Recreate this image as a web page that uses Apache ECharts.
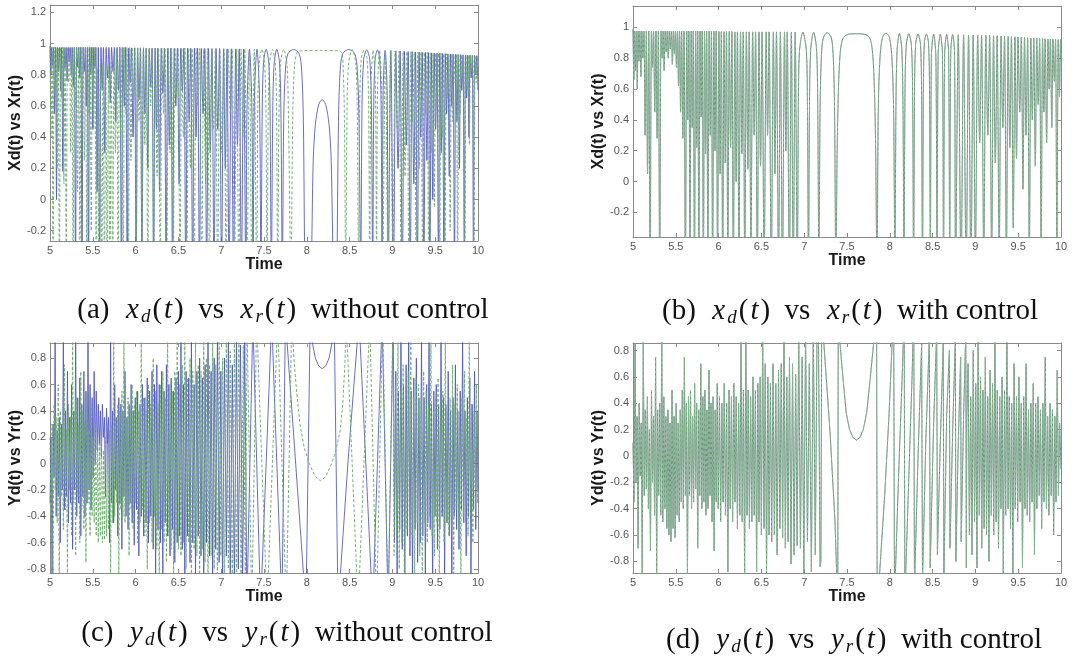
<!DOCTYPE html>
<html><head><meta charset="utf-8">
<script src="https://cdn.jsdelivr.net/npm/echarts@6/dist/echarts.min.js"></script>
<style>html,body{margin:0;padding:0;background:#fff}#c{width:1090px;height:659px}</style>
</head><body><div id="c"></div>
<script>
// ---- data: [time, value] pairs ----
// (a) x without control: blue solid = Xd, green dashed = Xr
const xdA = [[5.000,0.98],[5.010,0.80],[5.020,0.975],[5.030,0.86],[5.040,0.975],[5.052,0.55],[5.064,0.975],[5.076,0.00],[5.088,0.975],[5.100,0.82],[5.112,0.975],[5.124,0.70],[5.136,0.975],[5.150,0.18],[5.164,0.975],[5.176,0.84],[5.188,0.975],[5.200,0.76],[5.212,0.975],[5.224,0.88],[5.236,0.975],[5.248,0.80],[5.260,0.975],[5.272,0.72],[5.284,0.975],[5.298,-0.5],[5.312,0.975],[5.324,0.85],[5.336,0.975],[5.348,0.78],[5.360,0.975],[5.374,-0.5],[5.388,0.975],[5.400,0.82],[5.412,0.975],[5.424,0.60],[5.436,0.975],[5.450,-0.5],[5.464,0.975],[5.476,0.80],[5.488,0.975],[5.500,0.45],[5.512,0.975],[5.524,0.85],[5.536,0.975],[5.550,0.05],[5.564,0.975],[5.580,-0.5],[5.596,0.975],[5.610,0.70],[5.624,0.975],[5.640,0.30],[5.656,0.975],[5.672,0.78],[5.688,0.975],[5.704,0.62],[5.720,0.975],[5.736,0.82],[5.752,0.975],[5.768,0.50],[5.784,0.975],[5.800,0.70],[5.816,0.975],[5.834,-0.5],[5.852,0.975],[5.868,0.60],[5.884,0.975],[5.902,-0.5],[5.920,0.972],[5.936,0.75],[5.952,0.972],[5.970,0.40],[5.988,0.972],[6.006,-0.5],[6.024,0.972],[6.040,0.65],[6.056,0.972],[6.074,-0.5],[6.092,0.972],[6.108,0.55],[6.124,0.97],[6.142,0.20],[6.160,0.97],[6.176,0.72],[6.192,0.97],[6.210,-0.5],[6.228,0.97],[6.244,0.45],[6.260,0.97],[6.280,0.05],[6.300,0.97],[6.318,0.68],[6.336,0.97],[6.356,-0.5],[6.376,0.97],[6.394,0.35],[6.412,0.97],[6.432,-0.5],[6.452,0.97],[6.470,0.60],[6.488,0.97],[6.508,0.10],[6.528,0.97],[6.546,0.70],[6.564,0.97],[6.586,-0.5],[6.608,0.97],[6.626,0.50],[6.644,0.97],[6.666,-0.5],[6.688,0.97],[6.706,0.40],[6.724,0.97],[6.746,-0.5],[6.768,0.968],[6.788,0.55],[6.808,0.968],[6.830,-0.5],[6.852,0.968],[6.872,0.30],[6.892,0.968],[6.916,-0.5],[6.940,0.968],[6.960,0.45],[6.980,0.968],[7.004,-0.5],[7.028,0.966],[7.048,0.20],[7.068,0.966],[7.092,-0.5],[7.118,0.966],[7.144,-0.5],[7.170,0.966],[7.190,0.35],[7.210,0.966],[7.236,-0.5],[7.262,0.965],[7.288,-0.5],[7.302,0.6],[7.330,0.964],[7.358,0.6],[7.372,-0.5],[7.388,0.65],[7.418,0.964],[7.448,0.65],[7.464,-0.5],[7.480,0.6],[7.495,0.88],[7.525,0.963],[7.555,0.88],[7.570,0.6],[7.586,-0.5],[7.602,0.55],[7.618,0.87],[7.650,0.963],[7.682,0.87],[7.698,0.55],[7.714,-0.5],[7.730,0.5],[7.750,0.83],[7.780,0.935],[7.845,0.962],[7.910,0.935],[7.940,0.83],[7.960,0.5],[7.980,-0.5],[8.015,-0.9],[8.050,-0.5],[8.075,0.25],[8.100,0.48],[8.140,0.61],[8.180,0.64],[8.220,0.61],[8.260,0.48],[8.285,0.25],[8.310,-0.5],[8.330,-0.9],[8.350,-0.5],[8.370,0.5],[8.390,0.83],[8.420,0.935],[8.490,0.962],[8.560,0.935],[8.590,0.83],[8.610,0.5],[8.630,-0.5],[8.645,0.6],[8.665,0.9],[8.700,0.96],[8.735,0.9],[8.755,0.6],[8.770,-0.5],[8.782,0.6],[8.798,0.9],[8.825,0.958],[8.852,0.9],[8.868,0.6],[8.880,-0.5],[8.892,0.7],[8.915,0.956],[8.938,0.7],[8.950,-0.5],[8.982,0.955],[9.012,-0.5],[9.040,0.953],[9.066,0.20],[9.090,0.952],[9.116,-0.5],[9.140,0.95],[9.162,0.35],[9.184,0.949],[9.208,-0.5],[9.230,0.948],[9.250,0.10],[9.270,0.946],[9.292,-0.5],[9.312,0.945],[9.330,0.40],[9.348,0.944],[9.368,-0.5],[9.386,0.943],[9.403,0.25],[9.420,0.942],[9.438,-0.5],[9.455,0.94],[9.472,0.00],[9.488,0.939],[9.505,0.45],[9.521,0.938],[9.538,-0.5],[9.554,0.937],[9.570,0.30],[9.585,0.936],[9.602,-0.5],[9.618,0.935],[9.633,0.55],[9.648,0.934],[9.664,0.15],[9.679,0.933],[9.694,0.60],[9.709,0.932],[9.725,-0.5],[9.740,0.931],[9.754,0.50],[9.768,0.93],[9.783,0.20],[9.797,0.929],[9.811,0.70],[9.825,0.928],[9.840,-0.5],[9.854,0.927],[9.867,0.65],[9.880,0.926],[9.894,0.40],[9.907,0.925],[9.920,0.78],[9.933,0.924],[9.947,-0.4],[9.960,0.923],[9.973,0.80],[9.986,0.922],[10.0,0.70]];
const xrA = [[5.000,0.99],[5.012,0.40],[5.024,0.975],[5.036,-0.5],[5.048,0.975],[5.060,0.70],[5.072,0.975],[5.084,0.20],[5.096,0.975],[5.110,-0.5],[5.124,0.975],[5.136,0.65],[5.148,0.975],[5.162,0.10],[5.176,0.975],[5.190,-0.5],[5.204,0.975],[5.216,0.75],[5.228,0.975],[5.242,0.30],[5.256,0.975],[5.270,-0.5],[5.284,0.975],[5.296,0.60],[5.308,0.975],[5.322,0.05],[5.336,0.975],[5.350,-0.5],[5.364,0.975],[5.376,0.70],[5.388,0.975],[5.402,0.25],[5.416,0.975],[5.430,-0.5],[5.444,0.975],[5.456,0.55],[5.468,0.975],[5.482,-0.2],[5.496,0.975],[5.510,0.45],[5.524,0.975],[5.540,-0.5],[5.556,0.84],[5.572,-0.5],[5.588,0.86],[5.604,-0.5],[5.620,0.87],[5.636,-0.5],[5.652,0.86],[5.668,-0.5],[5.684,0.85],[5.700,-0.5],[5.716,0.88],[5.732,-0.5],[5.748,0.92],[5.764,0.30],[5.780,0.96],[5.796,-0.5],[5.812,0.975],[5.826,0.40],[5.840,0.975],[5.856,-0.5],[5.872,0.975],[5.886,0.55],[5.900,0.975],[5.916,-0.5],[5.932,0.975],[5.946,0.25],[5.960,0.975],[5.976,0.65],[5.992,0.972],[6.008,-0.5],[6.024,0.972],[6.040,0.50],[6.056,0.972],[6.074,-0.5],[6.092,0.972],[6.108,0.35],[6.124,0.972],[6.142,-0.5],[6.160,0.97],[6.176,0.60],[6.192,0.97],[6.212,-0.5],[6.232,0.97],[6.250,0.15],[6.268,0.97],[6.288,-0.5],[6.308,0.97],[6.326,0.55],[6.344,0.97],[6.364,-0.5],[6.384,0.97],[6.402,0.30],[6.420,0.97],[6.440,-0.5],[6.460,0.97],[6.478,0.65],[6.496,0.97],[6.518,-0.5],[6.540,0.97],[6.558,0.40],[6.576,0.97],[6.598,-0.5],[6.620,0.968],[6.640,0.20],[6.660,0.968],[6.684,-0.5],[6.708,0.968],[6.728,0.60],[6.748,0.968],[6.772,-0.5],[6.796,0.968],[6.818,0.10],[6.840,0.968],[6.864,-0.5],[6.888,0.967],[6.910,0.45],[6.932,0.967],[6.958,-0.5],[6.984,0.967],[7.008,0.30],[7.032,0.966],[7.058,-0.5],[7.084,0.966],[7.106,0.55],[7.128,0.966],[7.154,-0.5],[7.180,0.965],[7.206,-0.5],[7.232,0.965],[7.254,0.40],[7.276,0.965],[7.302,-0.5],[7.330,0.964],[7.358,-0.5],[7.386,0.964],[7.414,-0.5],[7.428,0.6],[7.444,0.88],[7.475,0.963],[7.506,0.88],[7.522,0.6],[7.536,-0.5],[7.550,0.6],[7.566,0.88],[7.598,0.962],[7.630,0.88],[7.646,0.6],[7.660,-0.5],[7.675,0.55],[7.692,0.87],[7.730,0.962],[7.768,0.87],[7.785,0.55],[7.815,-0.5],[7.835,0.5],[7.855,0.85],[7.885,0.94],[7.930,0.953],[8.160,0.956],[8.380,0.953],[8.410,0.94],[8.425,0.85],[8.440,0.5],[8.455,-0.5],[8.470,0.55],[8.488,0.87],[8.530,0.962],[8.572,0.87],[8.590,0.55],[8.605,-0.5],[8.618,0.6],[8.636,0.9],[8.670,0.96],[8.704,0.9],[8.722,0.6],[8.735,-0.5],[8.748,0.7],[8.775,0.958],[8.802,0.7],[8.815,-0.5],[8.826,0.7],[8.850,0.957],[8.874,0.7],[8.886,-0.5],[8.918,0.955],[8.950,-0.5],[8.978,0.954],[9.006,-0.5],[9.032,0.952],[9.056,0.45],[9.078,0.951],[9.102,-0.5],[9.126,0.95],[9.148,0.15],[9.170,0.948],[9.194,-0.5],[9.216,0.947],[9.236,0.50],[9.256,0.946],[9.278,-0.5],[9.298,0.945],[9.316,0.20],[9.334,0.944],[9.354,-0.5],[9.372,0.943],[9.389,0.55],[9.406,0.942],[9.424,-0.5],[9.441,0.94],[9.458,0.30],[9.474,0.939],[9.490,-0.05],[9.506,0.938],[9.522,0.60],[9.537,0.937],[9.553,-0.5],[9.569,0.936],[9.584,0.40],[9.599,0.935],[9.615,-0.5],[9.630,0.934],[9.645,0.65],[9.660,0.933],[9.675,-0.2],[9.690,0.932],[9.704,0.50],[9.718,0.931],[9.733,0.75],[9.747,0.93],[9.762,-0.5],[9.776,0.929],[9.790,0.55],[9.804,0.928],[9.818,0.80],[9.832,0.927],[9.846,-0.5],[9.860,0.926],[9.873,0.70],[9.886,0.925],[9.899,0.35],[9.912,0.924],[9.925,0.82],[9.938,0.923],[9.952,-0.5],[9.965,0.922],[9.978,0.75],[9.990,0.921],[10.0,0.85]];
// (b) x with control: Xd and Xr coincide
const xB = [[5.000,0.99],[5.010,0.66],[5.020,0.975],[5.030,0.72],[5.040,0.975],[5.050,0.60],[5.060,0.975],[5.070,0.78],[5.080,0.975],[5.092,0.68],[5.104,0.975],[5.116,0.80],[5.128,0.975],[5.142,0.30],[5.156,0.975],[5.170,0.05],[5.184,0.975],[5.200,-0.6],[5.216,0.975],[5.228,0.74],[5.240,0.975],[5.254,0.45],[5.268,0.975],[5.282,0.28],[5.296,0.975],[5.312,-0.6],[5.328,0.975],[5.340,0.80],[5.352,0.975],[5.364,0.72],[5.376,0.975],[5.388,0.84],[5.400,0.975],[5.412,0.80],[5.424,0.975],[5.436,0.86],[5.448,0.975],[5.460,0.76],[5.472,0.975],[5.484,0.83],[5.496,0.975],[5.508,0.74],[5.520,0.975],[5.532,0.62],[5.544,0.975],[5.556,0.45],[5.568,0.975],[5.582,0.28],[5.596,0.975],[5.612,-0.6],[5.628,0.975],[5.640,0.40],[5.652,0.975],[5.666,-0.5],[5.680,0.975],[5.692,0.35],[5.704,0.975],[5.718,-0.6],[5.732,0.975],[5.744,0.22],[5.756,0.975],[5.770,-0.5],[5.784,0.975],[5.796,0.42],[5.808,0.975],[5.822,-0.6],[5.836,0.975],[5.848,0.18],[5.860,0.975],[5.875,-0.5],[5.890,0.975],[5.903,0.30],[5.916,0.975],[5.930,-0.6],[5.945,0.975],[5.958,0.20],[5.972,0.975],[5.988,-0.5],[6.004,0.972],[6.018,0.05],[6.032,0.972],[6.048,-0.6],[6.064,0.972],[6.078,0.12],[6.092,0.972],[6.108,-0.5],[6.125,0.972],[6.140,0.22],[6.155,0.972],[6.172,-0.6],[6.190,0.97],[6.205,0.00],[6.220,0.97],[6.238,-0.5],[6.256,0.97],[6.272,0.18],[6.288,0.97],[6.306,-0.6],[6.325,0.97],[6.342,0.08],[6.358,0.97],[6.378,-0.5],[6.398,0.97],[6.416,0.30],[6.432,0.97],[6.452,-0.6],[6.472,0.97],[6.490,0.10],[6.508,0.97],[6.532,-0.6],[6.556,0.97],[6.572,0.30],[6.590,0.97],[6.615,-0.6],[6.640,0.97],[6.658,0.05],[6.676,0.97],[6.700,-0.6],[6.722,0.97],[6.746,-0.6],[6.770,0.97],[6.786,0.20],[6.802,0.97],[6.826,-0.6],[6.850,0.968],[6.872,-0.6],[6.895,0.968],[6.920,-0.6],[6.932,0.5],[6.945,0.85],[6.985,0.968],[7.025,0.85],[7.038,0.5],[7.050,-0.6],[7.062,0.5],[7.076,0.86],[7.110,0.967],[7.144,0.86],[7.158,0.5],[7.172,-0.6],[7.185,0.45],[7.200,0.80],[7.222,0.93],[7.270,0.966],[7.318,0.93],[7.340,0.80],[7.355,0.45],[7.370,-0.6],[7.385,0.2],[7.400,0.6],[7.420,0.83],[7.450,0.925],[7.500,0.952],[7.610,0.958],[7.720,0.952],[7.770,0.925],[7.800,0.83],[7.820,0.6],[7.835,0.2],[7.850,-0.6],[7.865,0.45],[7.885,0.80],[7.915,0.935],[7.955,0.962],[7.995,0.935],[8.025,0.80],[8.045,0.45],[8.060,-0.6],[8.072,0.5],[8.086,0.86],[8.113,0.96],[8.140,0.86],[8.154,0.5],[8.166,-0.6],[8.177,0.55],[8.191,0.88],[8.222,0.958],[8.253,0.88],[8.267,0.55],[8.278,-0.6],[8.289,0.6],[8.302,0.89],[8.330,0.957],[8.358,0.89],[8.371,0.6],[8.382,-0.6],[8.392,0.6],[8.404,0.9],[8.428,0.956],[8.452,0.9],[8.464,0.6],[8.474,-0.6],[8.486,0.82],[8.512,0.955],[8.538,0.82],[8.552,-0.6],[8.565,0.83],[8.590,0.955],[8.615,0.83],[8.628,-0.6],[8.641,0.83],[8.664,0.954],[8.687,0.83],[8.700,-0.6],[8.712,0.84],[8.734,0.953],[8.756,0.84],[8.768,-0.6],[8.800,0.952],[8.832,-0.6],[8.862,0.951],[8.892,-0.6],[8.920,0.95],[8.948,-0.6],[8.974,0.95],[9.000,-0.5],[9.027,0.95],[9.050,0.25],[9.072,0.95],[9.098,-0.5],[9.122,0.948],[9.145,0.30],[9.166,0.948],[9.190,-0.5],[9.212,0.945],[9.233,0.12],[9.254,0.945],[9.278,-0.5],[9.300,0.943],[9.320,0.35],[9.340,0.943],[9.362,-0.5],[9.383,0.94],[9.402,0.22],[9.421,0.94],[9.442,-0.3],[9.462,0.938],[9.480,0.15],[9.498,0.936],[9.518,0.45],[9.536,0.935],[9.556,-0.05],[9.574,0.934],[9.592,0.30],[9.610,0.932],[9.630,-0.5],[9.648,0.93],[9.665,0.40],[9.682,0.93],[9.700,0.10],[9.717,0.928],[9.734,0.50],[9.750,0.927],[9.768,-0.5],[9.785,0.926],[9.800,0.45],[9.815,0.925],[9.832,0.25],[9.848,0.924],[9.862,0.60],[9.876,0.923],[9.892,0.35],[9.907,0.922],[9.922,0.65],[9.936,0.921],[9.952,-0.5],[9.968,0.92],[9.982,0.55],[9.995,0.92],[10.0,0.8]];
// (c) y without control: blue solid = Yd, green dashed = Yr
const ydC = [[5.000,-0.30],[5.012,0.20],[5.024,-0.85],[5.036,0.30],[5.048,-0.10],[5.060,0.95],[5.072,-0.40],[5.084,0.25],[5.096,-0.25],[5.108,0.35],[5.120,-0.60],[5.132,0.30],[5.144,-0.20],[5.156,0.95],[5.168,-0.35],[5.180,0.40],[5.192,-0.25],[5.204,0.70],[5.216,-0.45],[5.228,0.35],[5.240,-0.30],[5.252,0.60],[5.264,-0.65],[5.276,0.40],[5.288,-0.20],[5.300,0.95],[5.312,-0.40],[5.324,0.50],[5.336,-0.30],[5.348,0.65],[5.360,-0.55],[5.372,0.45],[5.384,-0.25],[5.396,0.70],[5.408,-0.40],[5.420,0.55],[5.432,-0.30],[5.444,0.95],[5.456,-0.20],[5.468,0.60],[5.480,-0.35],[5.492,0.50],[5.504,-0.10],[5.516,0.70],[5.528,0.00],[5.540,0.55],[5.552,0.10],[5.564,0.45],[5.576,0.15],[5.588,0.40],[5.600,0.05],[5.612,0.45],[5.624,0.20],[5.636,0.35],[5.648,-0.25],[5.660,0.42],[5.672,0.15],[5.684,0.35],[5.696,-0.60],[5.708,0.95],[5.720,-0.30],[5.732,0.40],[5.744,-0.45],[5.756,0.60],[5.768,-0.20],[5.780,0.35],[5.792,-0.55],[5.804,0.50],[5.816,-0.30],[5.828,0.45],[5.840,-0.65],[5.852,0.40],[5.864,-0.25],[5.876,0.70],[5.888,-0.40],[5.900,0.35],[5.912,-0.50],[5.924,0.45],[5.936,-0.30],[5.948,0.60],[5.960,-0.45],[5.972,0.40],[5.984,-0.62],[5.996,0.50],[6.010,-0.35],[6.024,0.55],[6.038,-0.70],[6.052,0.45],[6.066,-0.40],[6.080,0.60],[6.094,-0.55],[6.108,0.50],[6.122,-0.45],[6.136,0.65],[6.150,-0.60],[6.164,0.55],[6.178,-0.40],[6.192,0.70],[6.206,-0.65],[6.220,0.60],[6.234,-0.85],[6.248,0.75],[6.262,-0.50],[6.276,0.60],[6.290,-0.60],[6.304,0.70],[6.318,-0.85],[6.332,0.55],[6.346,-0.45],[6.360,0.75],[6.374,-0.55],[6.388,0.60],[6.402,-0.70],[6.416,0.65],[6.430,-0.50],[6.444,0.55],[6.458,-0.75],[6.472,0.65],[6.486,-0.60],[6.500,0.70],[6.515,-0.55],[6.530,0.95],[6.545,-0.65],[6.560,0.60],[6.575,-0.85],[6.590,0.70],[6.605,-0.55],[6.620,0.65],[6.636,-0.75],[6.652,0.95],[6.668,-0.60],[6.684,0.60],[6.700,-0.85],[6.716,0.70],[6.732,-0.55],[6.748,0.80],[6.764,-0.70],[6.780,0.65],[6.796,-0.95],[6.812,0.75],[6.828,-0.60],[6.846,0.95],[6.864,-0.70],[6.882,0.70],[6.900,-0.85],[6.918,0.80],[6.936,-0.65],[6.956,0.95],[6.976,-0.75],[6.996,0.70],[7.016,-0.95],[7.038,0.80],[7.060,-0.70],[7.084,0.95],[7.106,-0.90],[7.130,0.75],[7.154,-0.95],[7.178,0.95],[7.200,-0.80],[7.225,0.90],[7.250,-0.95],[7.275,0.95],[7.300,-1.1],[7.370,1.1],[7.460,-1.1],[7.590,1.1],[7.710,-1.1],[7.750,1.1],[7.990,-1.1],[8.040,1.1],[8.070,0.90],[8.100,0.80],[8.140,0.74],[8.180,0.72],[8.220,0.74],[8.260,0.80],[8.290,0.90],[8.320,1.1],[8.365,-1.1],[8.480,0.0],[8.610,1.1],[8.770,-1.1],[8.880,1.1],[8.950,-1.1],[9.010,1.1],[9.025,-0.60],[9.040,0.70],[9.055,-0.95],[9.070,0.55],[9.085,-0.50],[9.100,0.95],[9.115,-0.65],[9.130,0.60],[9.145,-0.85],[9.160,0.75],[9.175,-0.55],[9.190,0.95],[9.205,-0.70],[9.220,0.55],[9.235,-0.95],[9.250,0.65],[9.265,-0.50],[9.280,0.80],[9.295,-0.75],[9.310,0.50],[9.325,-0.60],[9.340,0.95],[9.355,-0.55],[9.370,0.50],[9.385,-0.85],[9.400,0.60],[9.414,-0.45],[9.428,0.95],[9.442,-0.50],[9.456,0.45],[9.470,-0.95],[9.484,0.55],[9.498,-0.40],[9.512,0.60],[9.526,-0.65],[9.540,0.45],[9.554,-0.50],[9.568,0.95],[9.582,-0.40],[9.596,0.50],[9.610,-0.85],[9.624,0.45],[9.638,-0.45],[9.652,0.70],[9.666,-0.55],[9.680,0.40],[9.694,-0.95],[9.708,0.50],[9.722,-0.40],[9.736,0.75],[9.750,-0.50],[9.764,0.40],[9.778,-0.65],[9.792,0.55],[9.806,-0.35],[9.820,0.95],[9.834,-0.45],[9.848,0.40],[9.862,-0.70],[9.876,0.50],[9.890,-0.40],[9.904,0.65],[9.918,-0.85],[9.932,0.45],[9.946,-0.35],[9.960,0.70],[9.974,-0.50],[9.988,0.40],[10.00,-0.20]];
const yrC = [[5.000,0.20],[5.012,-0.40],[5.024,0.30],[5.036,-0.85],[5.048,0.45],[5.060,-0.20],[5.072,0.35],[5.084,-0.45],[5.096,0.60],[5.108,-0.95],[5.120,0.40],[5.132,-0.25],[5.144,0.30],[5.156,-0.50],[5.168,0.75],[5.180,-0.35],[5.192,0.25],[5.204,-0.85],[5.216,0.45],[5.228,-0.20],[5.240,0.35],[5.252,-0.55],[5.264,0.95],[5.276,-0.30],[5.288,0.40],[5.300,-0.70],[5.312,0.50],[5.324,-0.25],[5.336,0.30],[5.348,-0.60],[5.360,0.70],[5.372,-0.35],[5.384,0.40],[5.396,-0.50],[5.408,0.30],[5.420,-0.75],[5.432,0.55],[5.444,-0.30],[5.456,0.25],[5.468,-0.55],[5.480,0.45],[5.492,-0.40],[5.504,0.20],[5.516,-0.45],[5.528,0.30],[5.540,-0.55],[5.552,0.20],[5.564,-0.60],[5.576,0.15],[5.588,-0.55],[5.600,0.25],[5.612,-0.60],[5.624,0.10],[5.636,-0.58],[5.648,0.20],[5.660,-0.55],[5.672,0.15],[5.684,-0.50],[5.696,0.25],[5.708,-0.85],[5.720,0.30],[5.732,-0.45],[5.744,0.95],[5.756,-0.40],[5.768,0.35],[5.780,-0.30],[5.792,0.45],[5.804,-0.85],[5.816,0.40],[5.828,-0.35],[5.840,0.55],[5.852,-0.40],[5.864,0.95],[5.876,-0.45],[5.888,0.35],[5.900,-0.30],[5.912,0.50],[5.924,-0.70],[5.936,0.40],[5.948,-0.35],[5.960,0.60],[5.972,-0.50],[5.984,0.45],[5.996,-0.30],[6.010,0.55],[6.024,-0.60],[6.038,0.40],[6.052,-0.45],[6.066,0.95],[6.080,-0.35],[6.094,0.50],[6.108,-0.55],[6.122,0.40],[6.136,-0.80],[6.150,0.60],[6.164,-0.45],[6.178,0.45],[6.192,-0.60],[6.206,0.80],[6.220,-0.40],[6.234,0.55],[6.248,-0.65],[6.262,0.45],[6.276,-0.95],[6.290,0.60],[6.304,-0.50],[6.318,0.70],[6.332,-0.60],[6.346,0.50],[6.360,-0.75],[6.374,0.95],[6.388,-0.55],[6.402,0.60],[6.416,-0.65],[6.430,0.55],[6.444,-0.85],[6.458,0.70],[6.472,-0.55],[6.486,0.95],[6.500,-0.65],[6.515,0.60],[6.530,-0.70],[6.545,0.75],[6.560,-0.60],[6.575,0.95],[6.590,-0.80],[6.605,0.65],[6.620,-0.60],[6.636,0.80],[6.652,-0.95],[6.668,0.70],[6.684,-0.65],[6.700,0.95],[6.716,-0.70],[6.732,0.75],[6.748,-0.90],[6.764,0.70],[6.780,-0.65],[6.796,0.95],[6.812,-0.75],[6.828,0.80],[6.846,-0.95],[6.864,0.75],[6.882,-0.70],[6.900,0.95],[6.918,-0.80],[6.936,0.75],[6.956,-0.95],[6.976,0.95],[6.996,-0.70],[7.016,0.80],[7.038,-0.95],[7.060,0.95],[7.084,-0.80],[7.106,0.85],[7.130,-0.95],[7.154,0.95],[7.178,-0.85],[7.206,0.95],[7.232,-0.95],[7.258,0.90],[7.282,-0.95],[7.302,1.05],[7.358,-1.1],[7.414,1.1],[7.536,-1.1],[7.660,1.1],[7.760,-1.1],[7.825,1.1],[7.850,0.80],[7.880,0.55],[7.920,0.30],[7.970,0.12],[8.030,0.00],[8.100,-0.10],[8.160,-0.13],[8.220,-0.10],[8.290,0.00],[8.340,0.10],[8.390,0.25],[8.420,0.45],[8.445,0.75],[8.460,1.1],[8.600,-1.1],[8.735,1.1],[8.815,-1.1],[8.886,1.1],[8.950,-1.1],[9.006,1.1],[9.020,-0.70],[9.035,0.60],[9.050,-0.55],[9.065,0.95],[9.080,-0.80],[9.095,0.55],[9.110,-0.60],[9.125,0.75],[9.140,-0.95],[9.155,0.60],[9.170,-0.50],[9.185,0.70],[9.200,-0.65],[9.215,0.95],[9.230,-0.55],[9.245,0.50],[9.260,-0.85],[9.275,0.65],[9.290,-0.45],[9.305,0.60],[9.320,-0.70],[9.335,0.50],[9.350,-0.95],[9.365,0.70],[9.380,-0.45],[9.394,0.55],[9.408,-0.60],[9.422,0.45],[9.436,-0.40],[9.450,0.95],[9.464,-0.55],[9.478,0.40],[9.492,-0.70],[9.506,0.50],[9.520,-0.45],[9.534,0.65],[9.548,-0.95],[9.562,0.45],[9.576,-0.40],[9.590,0.55],[9.604,-0.60],[9.618,0.95],[9.632,-0.45],[9.646,0.40],[9.660,-0.55],[9.674,0.50],[9.688,-0.40],[9.702,0.75],[9.716,-0.85],[9.730,0.45],[9.744,-0.35],[9.758,0.60],[9.772,-0.50],[9.786,0.40],[9.800,-0.95],[9.814,0.50],[9.828,-0.40],[9.842,0.70],[9.856,-0.45],[9.870,0.35],[9.884,-0.55],[9.898,0.95],[9.912,-0.40],[9.926,0.45],[9.940,-0.60],[9.954,0.40],[9.968,-0.35],[9.982,0.60],[9.995,-0.30],[10.00,0.10]];
// (d) y with control: Yd and Yr coincide
const yD = [[5.000,0.10],[5.012,-0.35],[5.024,0.85],[5.036,-0.20],[5.048,0.30],[5.060,-0.70],[5.072,0.40],[5.084,-0.15],[5.096,0.25],[5.108,-0.90],[5.120,0.90],[5.132,-0.30],[5.144,0.35],[5.156,-0.25],[5.168,0.45],[5.180,-0.40],[5.192,0.20],[5.204,-0.72],[5.216,0.50],[5.228,-0.20],[5.240,0.30],[5.252,-0.45],[5.264,0.75],[5.276,-0.90],[5.288,0.35],[5.300,-0.30],[5.312,0.40],[5.324,-0.45],[5.336,0.95],[5.348,-0.50],[5.360,0.45],[5.372,-0.40],[5.384,0.30],[5.396,-0.55],[5.408,0.35],[5.420,-0.60],[5.432,0.25],[5.444,-0.65],[5.456,0.50],[5.468,-0.55],[5.480,0.30],[5.492,-0.62],[5.504,0.40],[5.516,-0.45],[5.528,0.25],[5.540,-0.50],[5.552,0.35],[5.564,-0.35],[5.576,0.50],[5.588,-0.40],[5.600,0.75],[5.612,-0.30],[5.624,0.40],[5.636,-0.90],[5.648,0.45],[5.660,-0.30],[5.672,0.50],[5.684,-0.40],[5.696,0.30],[5.708,-0.35],[5.720,0.55],[5.732,-0.25],[5.744,0.40],[5.756,-0.70],[5.768,0.35],[5.780,-0.30],[5.792,0.70],[5.804,-0.40],[5.816,0.45],[5.828,-0.35],[5.840,0.50],[5.852,-0.45],[5.864,0.35],[5.876,-0.40],[5.888,0.65],[5.900,-0.30],[5.912,0.40],[5.924,-0.50],[5.936,0.45],[5.948,-0.72],[5.960,0.35],[5.972,-0.35],[5.984,0.55],[5.996,-0.40],[6.010,0.45],[6.024,-0.50],[6.038,0.40],[6.052,-0.35],[6.066,0.55],[6.080,-0.45],[6.094,0.40],[6.108,-0.88],[6.122,0.50],[6.136,-0.40],[6.150,0.45],[6.164,-0.50],[6.178,0.55],[6.192,-0.35],[6.206,0.45],[6.220,-0.55],[6.234,0.40],[6.248,-0.45],[6.262,0.92],[6.276,-0.50],[6.290,0.50],[6.304,-0.90],[6.318,0.95],[6.332,-0.45],[6.346,0.50],[6.360,-0.55],[6.374,0.45],[6.388,-0.50],[6.402,0.60],[6.416,-0.45],[6.430,0.50],[6.444,-0.88],[6.458,0.55],[6.472,-0.50],[6.486,0.60],[6.500,-0.60],[6.515,0.95],[6.530,-0.55],[6.545,0.70],[6.560,-0.92],[6.575,0.60],[6.590,-0.60],[6.605,0.55],[6.620,-0.65],[6.636,0.70],[6.652,-0.60],[6.668,0.55],[6.684,-0.75],[6.700,0.65],[6.716,-0.55],[6.732,0.70],[6.748,-0.62],[6.764,0.95],[6.780,-0.70],[6.796,0.60],[6.812,-0.65],[6.828,0.75],[6.846,-0.82],[6.864,0.70],[6.882,-0.75],[6.900,0.62],[6.918,-0.68],[6.936,0.95],[6.956,-0.70],[6.976,0.75],[6.996,-0.90],[7.016,0.95],[7.038,-0.65],[7.060,0.70],[7.084,-0.88],[7.106,0.95],[7.130,-0.75],[7.150,0.95],[7.165,1.1],[7.185,-0.84],[7.195,-0.80],[7.205,1.1],[7.230,0.85],[7.300,0.20],[7.360,-0.50],[7.385,-1.0],[7.392,-1.1],[7.398,1.1],[7.405,0.95],[7.455,0.58],[7.490,0.33],[7.530,0.20],[7.570,0.14],[7.610,0.12],[7.650,0.14],[7.690,0.20],[7.730,0.33],[7.770,0.58],[7.825,0.95],[7.845,1.2],[7.853,-1.2],[7.880,-0.9],[7.940,-0.3],[7.990,0.3],[8.030,0.9],[8.045,1.2],[8.055,-1.1],[8.100,-0.2],[8.150,0.7],[8.168,1.1],[8.176,-1.1],[8.215,-0.3],[8.260,0.6],[8.280,1.1],[8.288,-1.0],[8.330,0.0],[8.372,0.85],[8.382,-0.95],[8.420,0.1],[8.462,0.9],[8.472,-0.85],[8.510,0.2],[8.548,0.95],[8.556,-0.75],[8.590,0.1],[8.624,0.85],[8.632,-0.9],[8.664,0.3],[8.696,0.8],[8.703,-0.7],[8.735,0.2],[8.766,0.9],[8.772,-0.8],[8.800,0.1],[8.828,0.75],[8.834,-0.65],[8.862,0.3],[8.888,0.95],[8.894,-0.85],[8.900,0.30],[8.915,0.70],[8.930,-0.60],[8.945,0.45],[8.960,-0.75],[8.975,0.80],[8.990,-0.50],[9.004,0.55],[9.018,-0.85],[9.032,0.95],[9.046,-0.45],[9.060,0.60],[9.074,-0.70],[9.088,0.50],[9.102,-0.55],[9.116,0.75],[9.130,-0.60],[9.144,0.45],[9.158,-0.80],[9.172,0.65],[9.186,-0.45],[9.200,0.55],[9.214,-0.60],[9.228,0.95],[9.242,-0.50],[9.256,0.50],[9.270,-0.70],[9.284,0.45],[9.298,-0.40],[9.312,0.60],[9.326,-0.90],[9.340,0.50],[9.354,-0.45],[9.368,0.95],[9.382,-0.40],[9.396,0.45],[9.410,-0.55],[9.424,0.40],[9.438,-0.95],[9.452,0.70],[9.466,-0.40],[9.480,0.45],[9.494,-0.50],[9.508,0.60],[9.522,-0.35],[9.536,0.40],[9.550,-0.85],[9.564,0.45],[9.578,-0.40],[9.592,0.70],[9.606,-0.45],[9.620,0.35],[9.634,-0.50],[9.648,0.40],[9.662,-0.35],[9.676,0.55],[9.690,-0.75],[9.704,0.40],[9.718,-0.40],[9.732,0.45],[9.746,-0.30],[9.760,0.35],[9.774,-0.55],[9.788,0.40],[9.802,-0.35],[9.816,0.75],[9.830,-0.40],[9.844,0.30],[9.858,-0.45],[9.872,0.40],[9.886,-0.30],[9.900,0.35],[9.914,-0.60],[9.928,0.30],[9.942,-0.35],[9.956,0.65],[9.970,-0.30],[9.984,0.25],[10.00,-0.10]];

const yAxisNames = ['Xd(t) vs Xr(t)', 'Xd(t) vs Xr(t)', 'Yd(t) vs Yr(t)', 'Yd(t) vs Yr(t)'];
const xAxisName = 'Time';
const captions = [
  '(a)  {i|x}{s|d}({i|t})  vs  {i|x}{s|r}({i|t})  without control',
  '(b)  {i|x}{s|d}({i|t})  vs  {i|x}{s|r}({i|t})  with control',
  '(c)  {i|y}{s|d}({i|t})  vs  {i|y}{s|r}({i|t})  without control',
  '(d)  {i|y}{s|d}({i|t})  vs  {i|y}{s|r}({i|t})  with control'
];

// ---- layout ----
const grids = [
  {left: 50, top: 5, width: 428, height: 236},
  {left: 633, top: 6, width: 428, height: 231},
  {left: 50, top: 343, width: 428, height: 230},
  {left: 633, top: 343, width: 428, height: 230}
];
const yRanges = [[-0.266, 1.247], [-0.36, 1.138], [-0.83, 0.915], [-0.888, 0.857]];
const capPos = [[278, 289], [845, 290], [282, 612], [849, 619]];

const SANS = 'Arial, "Liberation Sans", Helvetica, sans-serif';
const fmt = v => {
  const k = v / 0.2;
  if (Math.abs(k - Math.round(k)) > 1e-6) return '';
  return String(+(+v).toFixed(2));
};

const xAxes = [], yAxes = [];
grids.forEach((g, i) => {
  xAxes.push({
    type: 'value', gridIndex: i, min: 5, max: 10, interval: 0.5, position: 'bottom',
    name: xAxisName, nameLocation: 'middle', nameGap: 13,
    nameTextStyle: {fontFamily: SANS, fontSize: 16, fontWeight: 'bold', color: '#1a1a1a'},
    axisLine: {show: true, onZero: false, lineStyle: {color: '#8a8a8a', width: 1}},
    axisTick: {show: true, inside: true, length: 4, lineStyle: {color: '#8a8a8a'}},
    axisLabel: {fontFamily: SANS, fontSize: 11, color: '#555', margin: 4,
      formatter: v => String(+(+v).toFixed(1))},
    splitLine: {show: false}
  });
  yAxes.push({
    type: 'value', gridIndex: i, min: yRanges[i][0], max: yRanges[i][1], splitNumber: 8,
    position: 'left',
    name: yAxisNames[i], nameLocation: 'middle', nameGap: 22, nameRotate: 90,
    nameTextStyle: {fontFamily: SANS, fontSize: 16, fontWeight: 'bold', color: '#1a1a1a'},
    axisLine: {show: true, onZero: false, lineStyle: {color: '#8a8a8a', width: 1}},
    axisTick: {show: true, inside: true, length: 4, lineStyle: {color: '#8a8a8a'}},
    axisLabel: {fontFamily: SANS, fontSize: 11, color: '#555', margin: 4, formatter: fmt,
      showMinLabel: false, showMaxLabel: false},
    splitLine: {show: false}
  });
});
grids.forEach((g, i) => {
  xAxes.push({
    type: 'value', gridIndex: i, min: 5, max: 10, interval: 0.5, position: 'top',
    axisLine: {show: true, onZero: false, lineStyle: {color: '#8a8a8a', width: 1}},
    axisTick: {show: true, inside: true, length: 4, lineStyle: {color: '#8a8a8a'}},
    axisLabel: {show: false}, splitLine: {show: false}
  });
  yAxes.push({
    type: 'value', gridIndex: i, min: yRanges[i][0], max: yRanges[i][1], splitNumber: 8,
    position: 'right',
    axisLine: {show: true, onZero: false, lineStyle: {color: '#8a8a8a', width: 1}},
    axisTick: {show: true, inside: true, length: 4, lineStyle: {color: '#8a8a8a'}},
    axisLabel: {show: false}, splitLine: {show: false}
  });
});

const BLUE = '#4f53c6', GREEN = '#6aae6a';
const SOLID_SYNC = '#64847f', DASH_SYNC = '#8dbf92';
function line(data, idx, color, dashed, smooth, width, opacity) {
  return {
    type: 'line', data: data, xAxisIndex: idx, yAxisIndex: idx,
    showSymbol: false, symbol: 'none', smooth: smooth, clip: true, silent: true,
    lineStyle: {color: color, width: width || 1, type: dashed ? [3, 2] : 'solid', opacity: opacity || 1},
    z: dashed ? 3 : 2
  };
}
const series = [
  line(xdA, 0, BLUE, false, 0.3, 1, 0.85),
  line(xrA, 0, GREEN, true, 0.3, 1, 0.95),
  line(xB, 1, SOLID_SYNC, false, 0.3, 1, 0.95),
  line(xB, 1, DASH_SYNC, true, 0.3, 1, 0.9),
  line(ydC, 2, BLUE, false, false, 1, 0.85),
  line(yrC, 2, GREEN, true, false, 1, 0.95),
  line(yD, 3, SOLID_SYNC, false, false, 1, 0.95),
  line(yD, 3, DASH_SYNC, true, false, 1, 0.9)
];

const SERIF = '"Liberation Serif", "Times New Roman", "DejaVu Serif", serif';
const titles = captions.map((c, i) => ({
  text: c, left: capPos[i][0], top: capPos[i][1], textAlign: 'center',
  textStyle: {
    fontFamily: SERIF, fontSize: 29, fontWeight: 'normal', color: '#111', lineHeight: 32,
    rich: {
      i: {fontFamily: SERIF, fontSize: 29, fontStyle: 'italic', color: '#111', lineHeight: 32, padding: [0, 2, 0, 2]},
      s: {fontFamily: SERIF, fontSize: 19, fontStyle: 'italic', color: '#111', lineHeight: 17, verticalAlign: 'bottom', padding: [0, 2, 0, 0]}
    }
  }
}));

const chart = echarts.init(document.getElementById('c'), null, {renderer: 'canvas'});
chart.setOption({
  animation: false,
  backgroundColor: '#ffffff',
  title: titles,
  grid: grids.map(g => Object.assign({containLabel: false}, g)),
  xAxis: xAxes,
  yAxis: yAxes,
  series: series
});
</script>
</body></html>
